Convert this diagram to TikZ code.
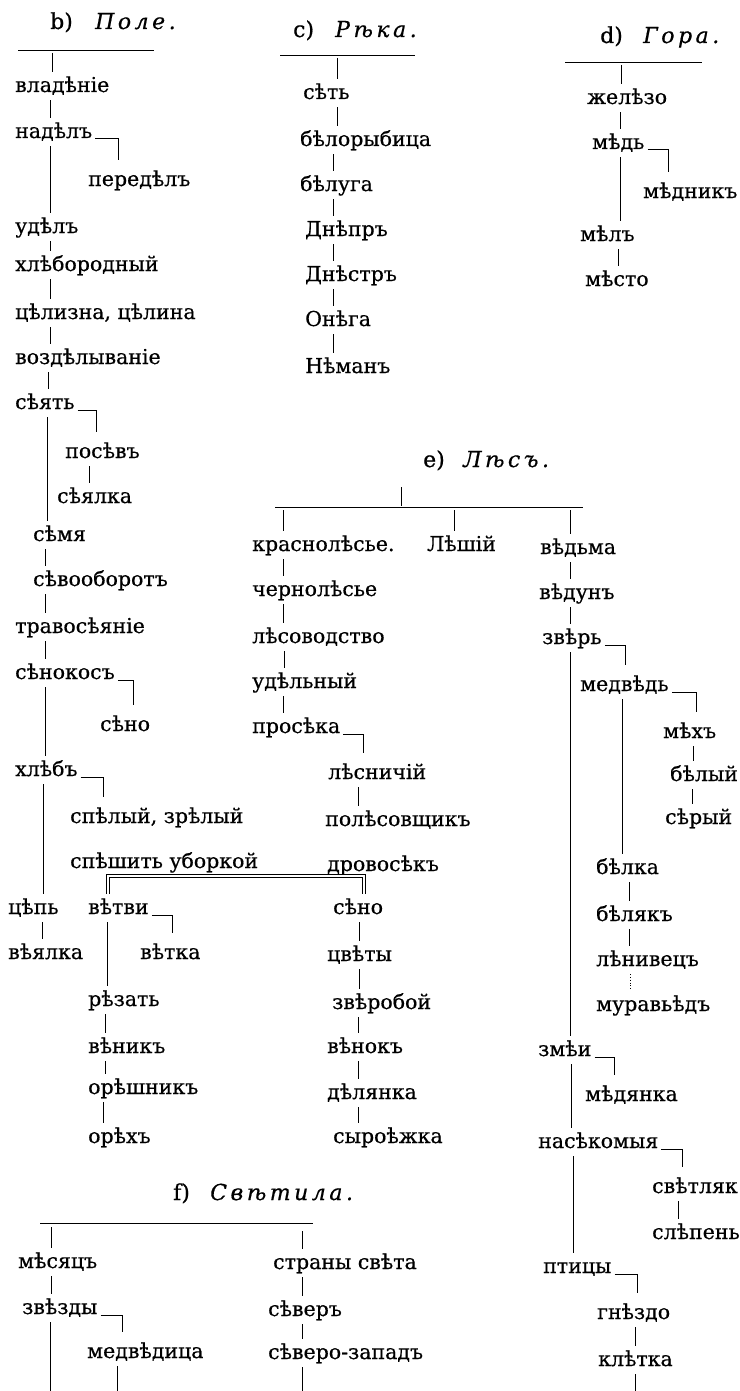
\documentclass[tikz,border=0pt]{standalone}
\usepackage{fontspec}
\setmainfont{DejaVu Serif}[FakeBold=0.6]
\newfontfamily\lsfam[LetterSpace=16,FakeBold=0.6]{DejaVu Serif}
\usetikzlibrary{calc}
\newcommand\wfont{\fontsize{20.5}{24}\selectfont}
\newcommand\hfont{\fontsize{22}{26}\selectfont}
\newcommand\vlink[3]{\draw[ln] (#1,0 |- #2.south) -- (#1,0 |- #3.north);}
\newcommand\elbow[3]{\draw[ln] ([xshift=3pt,yshift=-1pt]#1.base east) -| ($(#3,0 |- #2.north)+(0,-6)$);}
\tikzset{
  w/.style={anchor=base west, inner sep=0pt, text height=20pt, text depth=8pt, font=\wfont},
  hd/.style={anchor=base west, inner sep=0pt, font=\hfont},
  ln/.style={line width=1pt},
  rl/.style={line width=0.8pt},
  dbl/.style={double, double distance=2.2pt, line width=0.6pt},
}
\begin{document}
\begin{tikzpicture}[x=1pt,y=-1pt]
\useasboundingbox[fill=white] (0,0) rectangle (739,1391);
% ---------- b) Поле
\node[hd] (hbl) at (50,29) {b)};
\node[hd] (hbt) at (95,29) {\lsfam\itshape Поле.};
\coordinate (rb1) at (18,50); \coordinate (rb2) at (154,50);
\draw[rl] (rb1) -- (rb2);
\node[w] (vlad) at (15,92) {владѣніе};
\node[w] (nadel) at (15,138) {надѣлъ};
\node[w] (peredel) at (88,186) {передѣлъ};
\node[w] (udel) at (15,233) {удѣлъ};
\node[w] (hlebor) at (15,271) {хлѣбородный};
\node[w] (celiz) at (15,319) {цѣлизна, цѣлина};
\node[w] (vozdel) at (15,364) {воздѣлываніе};
\node[w] (syat) at (15,409) {сѣять};
\node[w] (posev) at (65,458) {посѣвъ};
\node[w] (seyalka) at (57,503) {сѣялка};
\node[w] (semya) at (33,541) {сѣмя};
\node[w] (sevoob) at (33,586) {сѣвооборотъ};
\node[w] (travo) at (15,633) {травосѣяніе};
\node[w] (senokos) at (15,679) {сѣнокосъ};
\node[w] (senoA) at (100,731) {сѣно};
\node[w] (hleb) at (15,776) {хлѣбъ};
\node[w] (speliy) at (70,823) {спѣлый, зрѣлый};
\node[w] (speshit) at (70,868) {спѣшить уборкой};
\node[w] (cep) at (8,914) {цѣпь};
\node[w] (vetvi) at (88,914) {вѣтви};
\node[w] (veyalka) at (8,959) {вѣялка};
\node[w] (vetka) at (140,959) {вѣтка};
\node[w] (rezat) at (88,1006) {рѣзать};
\node[w] (venik) at (88,1053) {вѣникъ};
\node[w] (oresh) at (88,1094) {орѣшникъ};
\node[w] (oreh) at (88,1143) {орѣхъ};
\draw[ln] (52,53) -- (52,0 |- vlad.north);
\vlink{50}{vlad}{nadel}
\elbow{nadel}{peredel}{118}
\vlink{50}{nadel}{udel}
\vlink{50}{udel}{hlebor}
\vlink{50}{hlebor}{celiz}
\vlink{50}{celiz}{vozdel}
\vlink{48}{vozdel}{syat}
\elbow{syat}{posev}{96}
\vlink{47}{syat}{semya}
\vlink{89}{posev}{seyalka}
\vlink{45}{semya}{sevoob}
\vlink{45}{sevoob}{travo}
\vlink{45}{travo}{senokos}
\elbow{senokos}{senoA}{133}
\vlink{45}{senokos}{hleb}
\elbow{hleb}{speliy}{103}
\vlink{43}{hleb}{cep}
\vlink{42}{cep}{veyalka}
\elbow{vetvi}{vetka}{172}
\vlink{107}{vetvi}{rezat}
\vlink{105}{rezat}{venik}
\vlink{105}{venik}{oresh}
\vlink{103}{oresh}{oreh}
% ---------- c) Рѣка
\node[hd] (hcl) at (293,37) {c)};
\node[hd] (hct) at (335,37) {\lsfam\itshape Рѣка.};
\coordinate (rc1) at (280,55); \coordinate (rc2) at (415,55);
\draw[rl] (rc1) -- (rc2);
\node[w] (set) at (303,99) {сѣть};
\node[w] (beloryb) at (300,146) {бѣлорыбица};
\node[w] (beluga) at (300,191) {бѣлуга};
\node[w] (dnepr) at (305,236) {Днѣпръ};
\node[w] (dnestr) at (305,281) {Днѣстръ};
\node[w] (onega) at (305,326) {Онѣга};
\node[w] (neman) at (305,373) {Нѣманъ};
\draw[rl] (337,58) -- (337,0 |- set.north);
\vlink{337}{set}{beloryb}
\vlink{333}{beloryb}{beluga}
\vlink{333}{beluga}{dnepr}
\vlink{333}{dnepr}{dnestr}
\vlink{333}{dnestr}{onega}
\vlink{333}{onega}{neman}
% ---------- d) Гора
\node[hd] (hdl) at (600,43) {d)};
\node[hd] (hdt) at (643,43) {\lsfam\itshape Гора.};
\coordinate (rd1) at (565,62); \coordinate (rd2) at (702,62);
\draw[rl] (rd1) -- (rd2);
\node[w] (zhelezo) at (587,104) {желѣзо};
\node[w] (med) at (592,149) {мѣдь};
\node[w] (mednik) at (643,198) {мѣдникъ};
\node[w] (mel) at (580,241) {мѣлъ};
\node[w] (mesto) at (585,286) {мѣсто};
\draw[ln] (621,65) -- (621,0 |- zhelezo.north);
\vlink{620}{zhelezo}{med}
\elbow{med}{mednik}{668}
\vlink{620}{med}{mel}
\vlink{618}{mel}{mesto}
% ---------- e) Лѣсъ
\node[hd] (hel) at (423,467) {e)};
\node[hd] (het) at (463,467) {\lsfam\itshape Лѣсъ.};
\coordinate (re1) at (275,507); \coordinate (re2) at (583,507);
\coordinate (retop) at (401,487);
\draw[rl] (re1) -- (re2);
\draw[ln] (retop) -- (401,506);
\node[w] (krasnoles) at (252,551) {краснолѣсье.};
\node[w] (leshiy) at (427,551) {Лѣшій};
\node[w] (vedma) at (540,554) {вѣдьма};
\node[w] (chernoles) at (252,596) {чернолѣсье};
\node[w] (lesovod) at (252,643) {лѣсоводство};
\node[w] (udelny) at (252,688) {удѣльный};
\node[w] (proseka) at (252,733) {просѣка};
\node[w] (lesnich) at (328,779) {лѣсничій};
\node[w] (polesov) at (325,826) {полѣсовщикъ};
\node[w] (drovosek) at (327,871) {дровосѣкъ};
\node[w] (senoB) at (333,914) {сѣно};
\node[w] (cvety) at (327,961) {цвѣты};
\node[w] (zverob) at (332,1009) {звѣробой};
\node[w] (venok) at (327,1053) {вѣнокъ};
\node[w] (delyanka) at (327,1099) {дѣлянка};
\node[w] (syroezh) at (333,1143) {сыроѣжка};
\node[w] (vedun) at (539,599) {вѣдунъ};
\node[w] (zver) at (542,644) {звѣрь};
\node[w] (medved) at (580,691) {медвѣдь};
\node[w] (meh) at (663,738) {мѣхъ};
\node[w] (bely) at (670,781) {бѣлый};
\node[w] (sery) at (665,824) {сѣрый};
\node[w] (belka) at (596,874) {бѣлка};
\node[w] (belyak) at (596,921) {бѣлякъ};
\node[w] (lenivec) at (596,966) {лѣнивецъ};
\node[w] (muraved) at (596,1011) {муравьѣдъ};
\node[w] (zmei) at (538,1056) {змѣи};
\node[w] (medyanka) at (585,1101) {мѣдянка};
\node[w] (nasekom) at (538,1148) {насѣкомыя};
\node[w] (svetlyak) at (652,1193) {свѣтляк};
\node[w] (slepen) at (652,1239) {слѣпень};
\node[w] (ptitsy) at (543,1273) {птицы};
\node[w] (gnezdo) at (597,1319) {гнѣздо};
\node[w] (kletka) at (598,1366) {клѣтка};
\draw[rl] (283,510) -- (283,0 |- krasnoles.north);
\draw[ln] (454,510) -- (454,0 |- leshiy.north);
\draw[ln] (570,510) -- (570,0 |- vedma.north);
\vlink{283}{krasnoles}{chernoles}
\vlink{283}{chernoles}{lesovod}
\vlink{284}{lesovod}{udelny}
\vlink{283}{udelny}{proseka}
\elbow{proseka}{lesnich}{363}
\vlink{358}{lesnich}{polesov}
\vlink{359}{senoB}{cvety}
\vlink{359}{cvety}{zverob}
\vlink{358}{zverob}{venok}
\vlink{358}{venok}{delyanka}
\vlink{358}{delyanka}{syroezh}
\vlink{570}{vedma}{vedun}
\vlink{570}{vedun}{zver}
\elbow{zver}{medved}{625}
\vlink{570}{zver}{zmei}
\elbow{medved}{meh}{696}
\vlink{622}{medved}{belka}
\vlink{693}{meh}{bely}
\vlink{692}{bely}{sery}
\vlink{629}{belka}{belyak}
\vlink{629}{belyak}{lenivec}
\draw[rl, dotted] (630,0 |- lenivec.south) -- (630,0 |- muraved.north);
\elbow{zmei}{medyanka}{614}
\vlink{571}{zmei}{nasekom}
\elbow{nasekom}{svetlyak}{682}
\vlink{678}{svetlyak}{slepen}
\vlink{573}{nasekom}{ptitsy}
\elbow{ptitsy}{gnezdo}{637}
\vlink{635}{gnezdo}{kletka}
\coordinate (kbot) at (635,1391);
\draw[ln] (635,0 |- kletka.south) -- (kbot);
% double connector
\coordinate (dj) at (364,876);
\draw[dbl] (108,0 |- vetvi.north) |- (dj) -- (364,0 |- senoB.north);
% ---------- f) Свѣтила
\node[hd] (hfl) at (173,1200) {f)};
\node[hd] (hft) at (210,1200) {\lsfam\itshape Свѣтила.};
\coordinate (rf1) at (40,1223); \coordinate (rf2) at (313,1223);
\draw[rl] (rf1) -- (rf2);
\node[w] (mesyac) at (18,1268) {мѣсяцъ};
\node[w] (zvezdy) at (22,1314) {звѣзды};
\node[w] (medvedica) at (87,1358) {медвѣдица};
\node[w] (strany) at (273,1269) {страны свѣта};
\node[w] (sever) at (268,1316) {сѣверъ};
\node[w] (severoz) at (268,1359) {сѣверо-западъ};
\draw[ln] (51,1227) -- (51,0 |- mesyac.north);
\draw[ln] (302,1231) -- (302,0 |- strany.north);
\vlink{51}{mesyac}{zvezdy}
\elbow{zvezdy}{medvedica}{122}
\coordinate (zbot) at (50,1391);
\coordinate (mbot) at (117,1391);
\coordinate (sbot) at (302,1391);
\draw[ln] (50,0 |- zvezdy.south) -- (zbot);
\draw[ln] (117,0 |- medvedica.south) -- (mbot);
\vlink{302}{strany}{sever}
\vlink{302}{sever}{severoz}
\draw[ln] (302,0 |- severoz.south) -- (sbot);
\end{tikzpicture}
\end{document}
